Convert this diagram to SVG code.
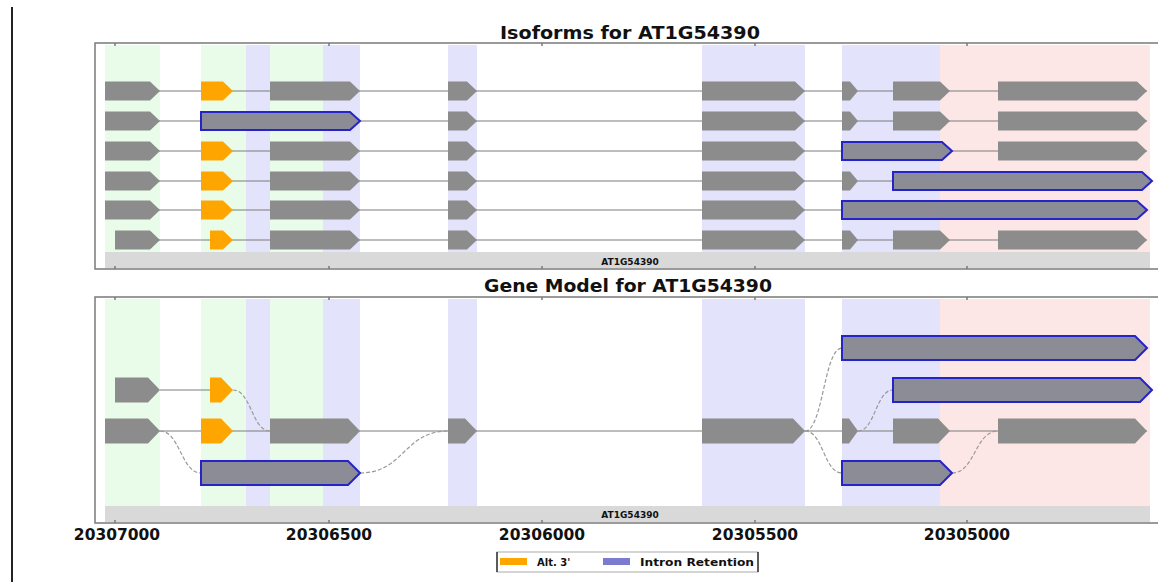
<svg xmlns="http://www.w3.org/2000/svg" width="1158" height="582" viewBox="0 0 1158 582">
<style>
.t{font-family:"DejaVu Sans",sans-serif;font-weight:bold;fill:#111}
.g{fill:#e9fce9}.l{fill:#e3e3fb}.p{fill:#fde6e6}
.bar{fill:#d9d9d9}
.fr{stroke:#7a7a7a;stroke-width:1.5;fill:none}
.in{stroke:#7d7d7d;stroke-width:1.2;fill:none}
.dc{stroke:#9a9a9a;stroke-width:1.2;fill:none;stroke-dasharray:4 2}
.ex{fill:#8c8c8c}
.alt{fill:#ffa500}
.ir{fill:#8c8c96;stroke:#2424c8;stroke-width:2}
</style>
<rect width="1158" height="582" fill="#fff"/>
<line x1="12" y1="7" x2="12" y2="582" stroke="#222" stroke-width="2"/>

<g id="isoforms-panel">
<rect class="g" x="105" y="45" width="55" height="207"/>
<rect class="g" x="201" y="45" width="45" height="207"/>
<rect class="l" x="246" y="45" width="24" height="207"/>
<rect class="g" x="270" y="45" width="53" height="207"/>
<rect class="l" x="323" y="45" width="37" height="207"/>
<rect class="l" x="448" y="45" width="29" height="207"/>
<rect class="l" x="702" y="45" width="103" height="207"/>
<rect class="l" x="842" y="45" width="98" height="207"/>
<rect class="p" x="940" y="45" width="210" height="207"/>
<rect class="bar" x="105" y="252" width="1045" height="16"/>
<text class="t" x="630" y="265" font-size="9" text-anchor="middle">AT1G54390</text>
<path class="fr" d="M1158,43H95V269H1158"/>
<path class="fr" d="M115,43v3M329,43v3M542,43v3M755,43v3M967,43v3M115,269v-3M329,269v-3M542,269v-3M755,269v-3M967,269v-3"/>
<text class="t" x="630" y="39" font-size="18" text-anchor="middle" textLength="260" lengthAdjust="spacingAndGlyphs">Isoforms for AT1G54390</text>
</g>

<g id="gene-model-panel">
<rect class="g" x="105" y="299" width="55" height="207"/>
<rect class="g" x="201" y="299" width="45" height="207"/>
<rect class="l" x="246" y="299" width="24" height="207"/>
<rect class="g" x="270" y="299" width="53" height="207"/>
<rect class="l" x="323" y="299" width="37" height="207"/>
<rect class="l" x="448" y="299" width="29" height="207"/>
<rect class="l" x="702" y="299" width="103" height="207"/>
<rect class="l" x="842" y="299" width="98" height="207"/>
<rect class="p" x="940" y="299" width="210" height="207"/>
<rect class="bar" x="105" y="506" width="1045" height="16"/>
<text class="t" x="630" y="518" font-size="9" text-anchor="middle">AT1G54390</text>
<path class="fr" d="M1158,297H95V523H1158"/>
<path class="fr" d="M115,297v3M329,297v3M542,297v3M755,297v3M967,297v3M115,523v-3M329,523v-3M542,523v-3M755,523v-3M967,523v-3"/>
<text class="t" x="628" y="292" font-size="18" text-anchor="middle" textLength="288" lengthAdjust="spacingAndGlyphs">Gene Model for AT1G54390</text>
</g>

<g id="connectors">
<path class="in" d="M105,91H1147M105,121H1147M105,151H1147M105,181H1152M105,210H1147M115,240H1147"/>
<path class="in" d="M160,390H210M105,431H1147"/>
<path class="dc" d="M233,390C251,390 252,431 270,431"/>
<path class="dc" d="M160,431C180,431 181,473 201,473"/>
<path class="dc" d="M360,473C404,473 404,431 448,431"/>
<path class="dc" d="M805,431C823,431 824,348 842,348"/>
<path class="dc" d="M805,431C823,431 824,473 842,473"/>
<path class="dc" d="M858,431C875,431 876,390 893,390"/>
<path class="dc" d="M952,473C975,473 975,431 998,431"/>
</g>

<g id="isoform-1">
<path class="ex" d="M105,81.5H150L160,91L150,100.5H105Z"/>
<path class="alt" d="M201,81.5H223L233,91L223,100.5H201Z"/>
<path class="ex" d="M270,81.5H350L360,91L350,100.5H270Z"/>
<path class="ex" d="M448,81.5H467L477,91L467,100.5H448Z"/>
<path class="ex" d="M702,81.5H795L805,91L795,100.5H702Z"/>
<path class="ex" d="M842,81.5H850L858,91L850,100.5H842Z"/>
<path class="ex" d="M893,81.5H940L950,91L940,100.5H893Z"/>
<path class="ex" d="M998,81.5H1137L1147,91L1137,100.5H998Z"/>
</g>
<g id="isoform-2">
<path class="ex" d="M105,111.5H150L160,121L150,130.5H105Z"/>
<path class="ir" d="M201,112H350L360,121L350,130H201Z"/>
<path class="ex" d="M448,111.5H467L477,121L467,130.5H448Z"/>
<path class="ex" d="M702,111.5H795L805,121L795,130.5H702Z"/>
<path class="ex" d="M842,111.5H850L858,121L850,130.5H842Z"/>
<path class="ex" d="M893,111.5H940L950,121L940,130.5H893Z"/>
<path class="ex" d="M998,111.5H1137L1147,121L1137,130.5H998Z"/>
</g>
<g id="isoform-3">
<path class="ex" d="M105,141.5H150L160,151L150,160.5H105Z"/>
<path class="alt" d="M201,141.5H223L233,151L223,160.5H201Z"/>
<path class="ex" d="M270,141.5H350L360,151L350,160.5H270Z"/>
<path class="ex" d="M448,141.5H467L477,151L467,160.5H448Z"/>
<path class="ex" d="M702,141.5H795L805,151L795,160.5H702Z"/>
<path class="ir" d="M842,142H942L952,151L942,160H842Z"/>
<path class="ex" d="M998,141.5H1137L1147,151L1137,160.5H998Z"/>
</g>
<g id="isoform-4">
<path class="ex" d="M105,171.5H150L160,181L150,190.5H105Z"/>
<path class="alt" d="M201,171.5H223L233,181L223,190.5H201Z"/>
<path class="ex" d="M270,171.5H350L360,181L350,190.5H270Z"/>
<path class="ex" d="M448,171.5H467L477,181L467,190.5H448Z"/>
<path class="ex" d="M702,171.5H795L805,181L795,190.5H702Z"/>
<path class="ex" d="M842,171.5H850L858,181L850,190.5H842Z"/>
<path class="ir" d="M893,172H1142L1152,181L1142,190H893Z"/>
</g>
<g id="isoform-5">
<path class="ex" d="M105,200.5H150L160,210L150,219.5H105Z"/>
<path class="alt" d="M201,200.5H223L233,210L223,219.5H201Z"/>
<path class="ex" d="M270,200.5H350L360,210L350,219.5H270Z"/>
<path class="ex" d="M448,200.5H467L477,210L467,219.5H448Z"/>
<path class="ex" d="M702,200.5H795L805,210L795,219.5H702Z"/>
<path class="ir" d="M842,201H1137L1147,210L1137,219H842Z"/>
</g>
<g id="isoform-6">
<path class="ex" d="M115,230.5H150L160,240L150,249.5H115Z"/>
<path class="alt" d="M210,230.5H223L233,240L223,249.5H210Z"/>
<path class="ex" d="M270,230.5H350L360,240L350,249.5H270Z"/>
<path class="ex" d="M448,230.5H467L477,240L467,249.5H448Z"/>
<path class="ex" d="M702,230.5H795L805,240L795,249.5H702Z"/>
<path class="ex" d="M842,230.5H850L858,240L850,249.5H842Z"/>
<path class="ex" d="M893,230.5H940L950,240L940,249.5H893Z"/>
<path class="ex" d="M998,230.5H1137L1147,240L1137,249.5H998Z"/>
</g>

<g id="model-exons">
<path class="ir" d="M842,336H1135L1147,348L1135,360H842Z"/>
<path class="ir" d="M893,378H1140L1152,390L1140,402H893Z"/>
<path class="ex" d="M115,377.5H148L160,390L148,402.5H115Z"/>
<path class="alt" d="M210,377.5H221L233,390L221,402.5H210Z"/>
<path class="ex" d="M105,418.5H148L160,431L148,443.5H105Z"/>
<path class="alt" d="M201,418.5H221L233,431L221,443.5H201Z"/>
<path class="ex" d="M270,418.5H348L360,431L348,443.5H270Z"/>
<path class="ex" d="M448,418.5H465L477,431L465,443.5H448Z"/>
<path class="ex" d="M702,418.5H793L805,431L793,443.5H702Z"/>
<path class="ex" d="M842,418.5H849L858,431L849,443.5H842Z"/>
<path class="ex" d="M893,418.5H938L950,431L938,443.5H893Z"/>
<path class="ex" d="M998,418.5H1135L1147,431L1135,443.5H998Z"/>
<path class="ir" d="M201,461H348L360,473L348,485H201Z"/>
<path class="ir" d="M842,461H940L952,473L940,485H842Z"/>
</g>

<g id="axis">
<text class="t" x="117" y="540" font-size="15.5" text-anchor="middle">20307000</text>
<text class="t" x="329" y="540" font-size="15.5" text-anchor="middle">20306500</text>
<text class="t" x="542" y="540" font-size="15.5" text-anchor="middle">20306000</text>
<text class="t" x="755" y="540" font-size="15.5" text-anchor="middle">20305500</text>
<text class="t" x="967" y="540" font-size="15.5" text-anchor="middle">20305000</text>
</g>

<g id="legend">
<rect x="497" y="552" width="261" height="20" fill="#fff" stroke="#aaa" stroke-width="1"/>
<line x1="497" y1="552" x2="497" y2="572" stroke="#333" stroke-width="1.5"/>
<line x1="758" y1="552" x2="758" y2="572" stroke="#333" stroke-width="1.5"/>
<rect x="500" y="558" width="27" height="7" fill="#ffa500"/>
<text class="t" x="537" y="566" font-size="10">Alt. 3'</text>
<rect x="603" y="558" width="27" height="7" fill="#7b7bd0"/>
<text class="t" x="640" y="566" font-size="10" textLength="114" lengthAdjust="spacingAndGlyphs">Intron Retention</text>
</g>
</svg>
